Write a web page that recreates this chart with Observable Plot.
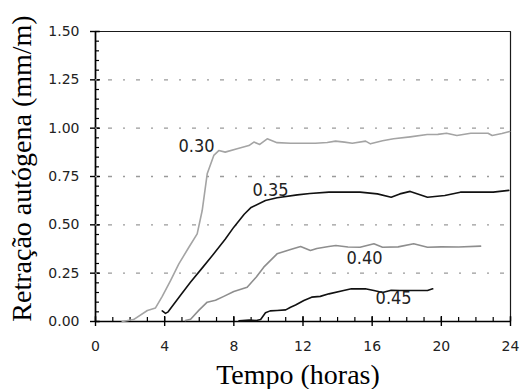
<!DOCTYPE html>
<html>
<head>
<meta charset="utf-8">
<script src="https://cdn.jsdelivr.net/npm/d3@7"></script>
<script src="https://cdn.jsdelivr.net/npm/@observablehq/plot@0.6"></script>
<style>
  html, body { margin: 0; padding: 0; background: #ffffff; overflow: hidden; }
  #chart svg { display: block; }
</style>
</head>
<body>
<div id="chart"></div>
<script>
// ---- data ----
const xTitle = "Tempo (horas)";
const yTitle = "Retração autógena (mm/m)";
const xMajorTicks = [0, 4, 8, 12, 16, 20, 24];
const xMinorTicks = d3.range(0, 25, 1);
const yMajorTicks = [0, 0.25, 0.5, 0.75, 1.0, 1.25, 1.5];
const yMinorTicks = d3.range(0, 31).map(i => i * 0.05);
const yGridTicks = [0.25, 0.5, 0.75, 1.0, 1.25];
const xEdges = [0, 24];
const yEdges = [0, 1.5];

const t030 = [1.55, 2.2, 3.0, 3.47, 3.86, 4.34, 4.82, 5.4, 5.88, 6.17, 6.46, 6.84, 7.13, 7.5, 8.19, 8.87, 9.16, 9.5, 9.93, 10.5, 11.28, 12.0, 12.72, 13.4, 13.88, 14.4, 14.85, 15.62, 15.9, 16.6, 17.24, 18.2, 19.18, 19.8, 20.3, 20.9, 21.7, 22.7, 22.94, 23.5, 23.95];
const v030 = [0, 0.01, 0.057, 0.07, 0.13, 0.212, 0.298, 0.384, 0.453, 0.574, 0.764, 0.859, 0.884, 0.876, 0.893, 0.91, 0.928, 0.916, 0.945, 0.925, 0.922, 0.922, 0.922, 0.926, 0.933, 0.928, 0.922, 0.933, 0.919, 0.935, 0.945, 0.955, 0.967, 0.968, 0.974, 0.962, 0.974, 0.974, 0.962, 0.972, 0.983];

const t035 = [3.86, 4.05, 4.2, 4.95, 5.49, 6.2, 6.84, 7.5, 8.0, 8.6, 9.0, 9.83, 10.5, 11.67, 12.4, 13.5, 15.3, 16.3, 17.1, 17.6, 18.2, 19.2, 20.2, 21.1, 23.0, 23.9];
const v035 = [0.055, 0.042, 0.05, 0.14, 0.203, 0.28, 0.35, 0.425, 0.488, 0.555, 0.59, 0.626, 0.64, 0.655, 0.662, 0.669, 0.669, 0.66, 0.643, 0.66, 0.673, 0.643, 0.652, 0.669, 0.669, 0.678];

const t040 = [5.2, 5.5, 6.0, 6.46, 6.94, 7.42, 8.0, 8.77, 9.3, 9.73, 10.5, 11.28, 11.86, 12.43, 12.8, 13.49, 13.9, 14.6, 15.3, 16.1, 16.6, 17.5, 18.4, 19.2, 20.0, 21.0, 22.27];
const v040 = [0.005, 0.012, 0.06, 0.1, 0.11, 0.13, 0.155, 0.177, 0.23, 0.281, 0.35, 0.372, 0.388, 0.367, 0.378, 0.388, 0.393, 0.385, 0.384, 0.402, 0.384, 0.386, 0.402, 0.384, 0.386, 0.385, 0.39];

const t045 = [8.3, 8.9, 9.3, 9.55, 9.83, 10.1, 10.5, 11.0, 11.28, 11.57, 12.05, 12.5, 13.0, 13.5, 14.35, 14.8, 15.6, 16.1, 16.6, 17.1, 17.6, 18.2, 19.2, 19.5];
const v045 = [0.003, 0.007, 0.005, 0.01, 0.045, 0.055, 0.057, 0.06, 0.074, 0.085, 0.109, 0.126, 0.13, 0.143, 0.16, 0.169, 0.169, 0.16, 0.15, 0.162, 0.16, 0.16, 0.16, 0.169];

const seriesNames = ["0.30", "0.35", "0.40", "0.45"];
const seriesColors = ["#a4a4a4", "#111111", "#8e8e8e", "#111111"];
const labelX = [5.84, 10.12, 15.56, 17.24];
const labelY = [0.905, 0.678, 0.326, 0.119];

// ---- build tables ----
const times = [t030, t035, t040, t045];
const vals = [v030, v035, v040, v045];
const rows = seriesNames.flatMap((s, k) => times[k].map((t, i) => ({serie: s, t, v: vals[k][i]})));
const labels = seriesNames.map((s, k) => ({serie: s, t: labelX[k], v: labelY[k]}));
// closed outline of the plotting box, from the axis extents
const box = [
  {t: xEdges[0], v: yEdges[0]}, {t: xEdges[1], v: yEdges[0]},
  {t: xEdges[1], v: yEdges[1]}, {t: xEdges[0], v: yEdges[1]}, {t: xEdges[0], v: yEdges[0]}
];

const W = 522, H = 389, ML = 95, MR = 12, MT = 31, MB = 68;
const FW = W - ML - MR, FH = H - MT - MB;

const tickFont = "DejaVu Sans, sans-serif";
const serif = "Liberation Serif, Times New Roman, serif";

const chart = Plot.plot({
  width: W,
  height: H,
  marginLeft: ML,
  marginRight: MR,
  marginTop: MT,
  marginBottom: MB,
  style: {background: "#ffffff"},
  x: {domain: [0, 24]},
  y: {domain: [0, 1.5]},
  color: {domain: seriesNames, range: seriesColors},
  marks: [
    // box, axis lines and ticks first
    Plot.line(box, {x: "t", y: "v", stroke: "#1a1a1a", strokeWidth: 1.2}),
    Plot.ruleX(xEdges.slice(0, 1), {x: d => d, stroke: "black", strokeWidth: 1.6}),
    Plot.ruleY(yEdges.slice(0, 1), {y: d => d, stroke: "black", strokeWidth: 1.6}),
    Plot.tickX(xMajorTicks, {x: d => d, stroke: "black", strokeWidth: 1.4, insetTop: FH - 5, insetBottom: -5}),
    Plot.tickX(xMinorTicks, {x: d => d, stroke: "black", strokeWidth: 1.2, insetTop: FH - 4}),
    Plot.tickY(yMajorTicks, {y: d => d, stroke: "black", strokeWidth: 1.4, insetLeft: -5, insetRight: FW - 5}),
    Plot.tickY(yMinorTicks, {y: d => d, stroke: "black", strokeWidth: 1.2, insetRight: FW - 4}),
    // grid
    Plot.ruleY(yGridTicks, {y: d => d, stroke: "#9a9a9a", strokeWidth: 1.3, strokeDasharray: "2,11,4,11"}),
    // data
    Plot.line(rows, {x: "t", y: "v", z: "serie", stroke: "serie", strokeWidth: 1.6}),
    Plot.text(labels, {x: "t", y: "v", text: "serie", fontFamily: "DejaVu Sans Condensed, sans-serif", fontSize: 18, fill: "#222222"}),
    // tick labels
    Plot.axisX({ticks: xMajorTicks, tickSize: 0, tickPadding: 20, stroke: "none", fill: "#222222", fontSize: 14, fontFamily: tickFont, tickFormat: d => String(d), label: null}),
    Plot.axisY({ticks: yMajorTicks, tickSize: 0, tickPadding: 16, stroke: "none", fill: "#222222", fontSize: 14, fontFamily: tickFont, tickFormat: d3.format(".2f"), label: null}),
    // titles
    Plot.text([xTitle], {frameAnchor: "bottom", dx: -5, dy: 54, textAnchor: "middle", lineAnchor: "middle", fontFamily: serif, fontSize: 28, fill: "black"}),
    Plot.text([yTitle], {frameAnchor: "left", rotate: -90, dx: -73, dy: -8, textAnchor: "middle", lineAnchor: "middle", fontFamily: serif, fontSize: 28, fill: "black"})
  ]
});
document.getElementById("chart").appendChild(chart);
</script>
</body>
</html>
